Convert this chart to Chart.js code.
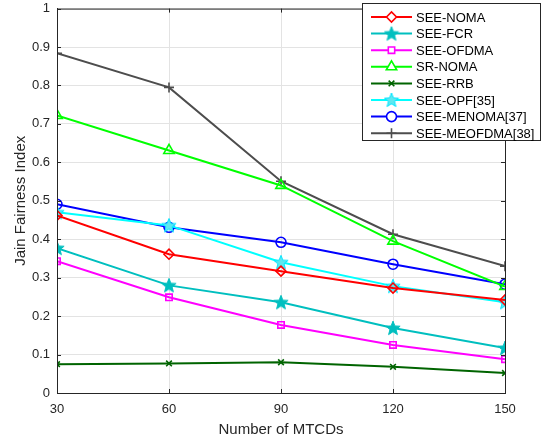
<!DOCTYPE html>
<html>
<head>
<meta charset="utf-8">
<script src="https://cdn.jsdelivr.net/npm/chart.js@4/dist/chart.umd.min.js"></script>
<style>
  body { margin: 0; background: #fff; }
  canvas { display: block; }
</style>
</head>
<body>
<canvas id="c" width="558" height="439"></canvas>
<script>
const mtcds = [30, 60, 90, 120, 150];
const seeNoma   = [0.462, 0.361, 0.317, 0.273, 0.242];
const seeFcr    = [0.377, 0.280, 0.236, 0.169, 0.117];
const seeOfdma  = [0.343, 0.249, 0.177, 0.125, 0.088];
const srNoma    = [0.722, 0.631, 0.540, 0.395, 0.277];
const seeRrb    = [0.075, 0.077, 0.080, 0.068, 0.052];
const seeOpf    = [0.470, 0.436, 0.340, 0.278, 0.236];
const seeMenoma = [0.491, 0.431, 0.392, 0.335, 0.283];
const seeMeofdma= [0.884, 0.795, 0.551, 0.413, 0.330];
const yTicks = [0, 0.1, 0.2, 0.3, 0.4, 0.5, 0.6, 0.7, 0.8, 0.9, 1];

// filled five-point star as point image
function starImg(fill, stroke) {
  const cv = document.createElement('canvas');
  cv.width = 16; cv.height = 16;
  const g = cv.getContext('2d');
  g.beginPath();
  for (let i = 0; i < 10; i++) {
    const r = i % 2 ? 3.2 : 7.5;
    const a = -Math.PI / 2 + i * Math.PI / 5;
    const px = 8 + r * Math.cos(a), py = 8.5 + r * Math.sin(a);
    i ? g.lineTo(px, py) : g.moveTo(px, py);
  }
  g.closePath();
  g.fillStyle = fill; g.fill();
  g.strokeStyle = stroke; g.lineWidth = 1; g.stroke();
  return cv;
}

function series(label, vals, color, style, radius) {
  return {
    label,
    data: mtcds.map((x, i) => ({ x, y: vals[i] })),
    borderColor: color,
    backgroundColor: 'rgba(0,0,0,0)',
    borderWidth: 2,
    pointStyle: style,
    pointRadius: radius,
    pointBorderColor: color,
    pointBackgroundColor: 'rgba(0,0,0,0)',
    pointBorderWidth: 1.6,
    tension: 0
  };
}

const datasets = [
  series('SEE-NOMA', seeNoma, '#ff0000', 'rectRot', 5),
  series('SEE-FCR', seeFcr, '#00bfbf', starImg('#00bfbf', '#00bfbf'), 7),
  series('SEE-OFDMA', seeOfdma, '#ff00ff', 'rect', 4.5),
  series('SR-NOMA', srNoma, '#00ff00', 'triangle', 6),
  series('SEE-RRB', seeRrb, '#006400', 'crossRot', 4),
  series('SEE-OPF[35]', seeOpf, '#00ffff', starImg('#5fe8f0', '#00e5ff'), 7),
  series('SEE-MENOMA[37]', seeMenoma, '#0000ff', 'circle', 5),
  series('SEE-MEOFDMA[38]', seeMeofdma, '#4d4d4d', 'cross', 5)
];

const frame = {
  id: 'frame',
  afterDraw(chart) {
    const { ctx, chartArea: a } = chart;
    const xs = chart.scales.x, ys = chart.scales.y;
    ctx.save();
    ctx.strokeStyle = '#262626';
    ctx.lineWidth = 1;
    ctx.strokeRect(a.left + 0.5, a.top + 0.5, a.right - a.left, a.bottom - a.top);
    ctx.beginPath();
    mtcds.forEach(v => {
      const x = Math.round(xs.getPixelForValue(v)) + 0.5;
      ctx.moveTo(x, a.bottom); ctx.lineTo(x, a.bottom - 4);
      ctx.moveTo(x, a.top); ctx.lineTo(x, a.top + 4);
    });
    yTicks.forEach(v => {
      const y = Math.round(ys.getPixelForValue(v)) + 0.5;
      ctx.moveTo(a.left, y); ctx.lineTo(a.left + 4, y);
      ctx.moveTo(a.right, y); ctx.lineTo(a.right - 4, y);
    });
    ctx.stroke();

    // legend box
    const bx = 362.5, by = 3.5, bw = 178, bh = 137;
    ctx.fillStyle = '#fff';
    ctx.fillRect(bx, by, bw, bh);
    ctx.strokeStyle = '#262626';
    ctx.strokeRect(bx, by, bw, bh);
    ctx.font = '13px "Liberation Sans", Arial, sans-serif';
    ctx.textBaseline = 'middle';
    chart.data.datasets.forEach((d, i) => {
      const y = 17 + i * 16.6;
      ctx.strokeStyle = d.borderColor;
      ctx.lineWidth = 2;
      ctx.beginPath(); ctx.moveTo(371, y); ctx.lineTo(412, y); ctx.stroke();
      ctx.lineWidth = d.pointBorderWidth;
      ctx.fillStyle = '#fff';
      Chart.helpers.drawPoint(ctx, {
        pointStyle: d.pointStyle, radius: d.pointRadius, rotation: 0,
        borderWidth: d.pointBorderWidth
      }, 391.5, y);
      ctx.fillStyle = '#000';
      ctx.fillText(d.label, 416, y + 1);
    });
    ctx.restore();
  }
};

new Chart(document.getElementById('c'), {
  type: 'line',
  data: { datasets },
  plugins: [frame],
  options: {
    responsive: false,
    animation: false,
    layout: { padding: { top: 8, right: 53, left: 0, bottom: 0 } },
    plugins: { legend: { display: false }, tooltip: { enabled: false } },
    scales: {
      x: {
        type: 'linear', min: 30, max: 150,
        afterBuildTicks: s => { s.ticks = mtcds.map(v => ({ value: v })); },
        afterFit: s => { s.height = 46; s.paddingLeft = 0; s.paddingRight = 0; },
        grid: { color: '#e3e3e3', drawTicks: false },
        border: { color: '#262626' },
        ticks: { color: '#262626', padding: 9, font: { family: '"Liberation Sans", Arial', size: 13 }, maxRotation: 0 },
        title: { display: true, text: 'Number of MTCDs', color: '#262626', padding: { top: 2, bottom: 0 },
                 font: { family: '"Liberation Sans", Arial', size: 15 } }
      },
      y: {
        min: 0, max: 1,
        afterBuildTicks: s => { s.ticks = yTicks.map(v => ({ value: v })); },
        afterFit: s => { s.width = 57; s.paddingTop = 0; s.paddingBottom = 0; },
        grid: { color: '#e3e3e3', drawTicks: false },
        border: { color: '#262626' },
        ticks: { color: '#262626', padding: 7, font: { family: '"Liberation Sans", Arial', size: 13 },
                 callback: v => String(v) },
        title: { display: true, text: 'Jain Fairness Index', color: '#262626', padding: { top: 12, bottom: 4 },
                 font: { family: '"Liberation Sans", Arial', size: 15 } }
      }
    }
  }
});
</script>
</body>
</html>
